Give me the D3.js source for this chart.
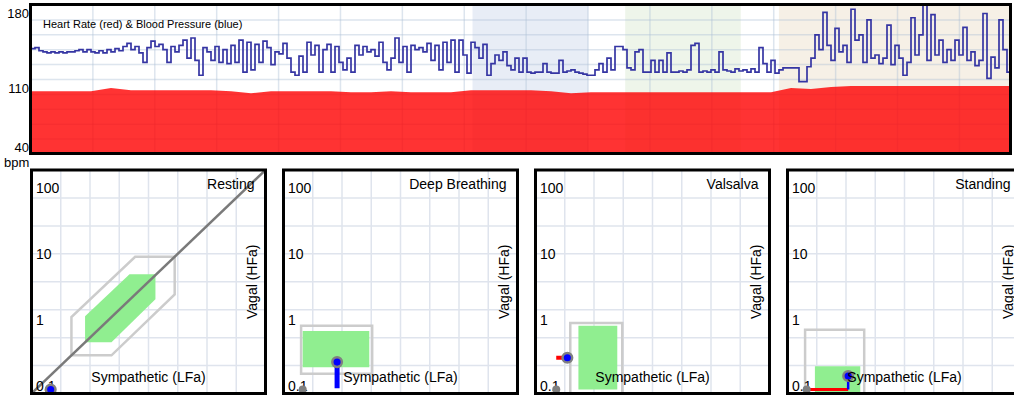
<!DOCTYPE html>
<html>
<head>
<meta charset="utf-8">
<script src="https://cdn.jsdelivr.net/npm/d3@7"></script>
<style>
  body { margin: 0; overflow: hidden; background: #fff; }
  svg { display: block; font-family: Arial, "Liberation Sans", sans-serif; }
</style>
</head>
<body>
<div id="chart"></div>
<script>
// trend chart (seconds on x, bpm on y)
const duration = 950;
const bpmTicks = [180, 110, 40];
const phases = [
  { name: 'Deep Breathing', start: 428, end: 540 },
  { name: 'Valsalva', start: 576, end: 688 },
  { name: 'Standing', start: 725, end: 950 }
];

// blood pressure, evenly sampled over the whole session
const bloodPressure = [
  139, 140, 137, 136, 135, 136, 135, 136, 135, 136, 136, 137, 138, 136, 138, 136, 135,
  137, 135, 138, 136, 139, 137, 141, 144, 138, 141, 135, 126, 140, 146, 141, 143, 138,
  126, 141, 136, 142, 147, 130, 149, 128, 114, 140, 136, 128, 141, 126, 138, 125,
  142, 126, 147, 117, 145, 119, 143, 126, 146, 140, 124, 136, 134, 144, 130, 117, 114,
  132, 117, 145, 133, 142, 117, 138, 143, 117, 141, 126, 119, 130, 117, 142, 133, 141,
  136, 138, 132, 145, 126, 119, 130, 149, 126, 141, 117, 142, 138, 140, 136,
  144, 128, 142, 119, 145, 126, 147, 117, 147, 133, 116, 145, 140, 130, 143, 114, 125,
  133, 128, 136, 123, 119, 130, 117, 130, 117, 116, 117, 117, 125, 117, 116, 116, 128,
  117, 118, 119, 117, 116, 115, 114, 114, 119, 125, 117, 130, 119, 141, 141, 138,
  121, 119, 136, 138, 117, 117, 128, 117, 128, 117, 135, 117, 117, 118, 117, 119, 142,
  144, 117, 118, 117, 119, 117, 136, 119, 118, 117, 120, 118, 119, 117, 120, 117, 140,
  125, 117, 128, 116, 119, 121, 121, 121, 121, 108, 108, 122, 130,
  152, 138, 173, 142, 128, 158, 136, 142, 126, 176, 147, 152, 126, 166, 130, 133, 125,
  130, 161, 124, 142, 130, 114, 126, 168, 133, 152, 180, 128, 171, 133, 147, 126, 138,
  128, 147, 133, 159, 128, 136, 123, 128, 172, 111, 131, 121, 166, 138, 117, 138
];

// heart rate, evenly sampled over the whole session
const heartRate = [
  99, 99, 99, 99, 102, 100, 100, 100, 100, 100, 99, 97, 99, 99, 99, 99, 98, 98, 99, 98,
  98, 98, 100, 100, 100, 100, 99, 97, 98, 98, 98, 98, 98, 98, 98, 98, 98, 98, 102, 101,
  103, 104, 104, 104, 104, 104, 104, 104, 104, 104
];

// autonomic panels (log-log, sympathetic LFa vs vagal HFa)
const panelNames = ['Resting', 'Deep Breathing', 'Valsalva', 'Standing'];
const logDomain = [0.1, 250];
const logTicks = [100, 10, 1, 0.1];
const outerZones = [
  [[0.38, 1.45], [0.38, 0.38], [1.45, 0.38], [12, 3.2], [12, 12], [3.2, 12]],
  [[0.18, 1.07], [0.18, 0.2], [1.94, 0.2], [1.94, 1.07]],
  [[0.32, 1.18], [0.32, 0.1], [1.82, 0.1], [1.82, 1.18]],
  [[0.18, 0.93], [0.18, 0.1], [1.3, 0.1], [1.3, 0.93]]
];
const normalZones = [
  [[0.6, 1.5], [0.6, 0.6], [1.45, 0.6], [6.3, 2.7], [6.3, 6.5], [2.65, 6.5]],
  [[0.19, 0.89], [0.19, 0.25], [1.76, 0.25], [1.76, 0.89]],
  [[0.42, 1.07], [0.42, 0.115], [1.54, 0.115], [1.54, 1.07]],
  [[0.25, 0.26], [0.25, 0.1], [1.14, 0.1], [1.14, 0.26]]
];
const previousPoints = [[0.19, 0.115], [0.19, 0.115], [0.2, 0.115], [0.19, 0.115]];
const currentPoints = [[0.19, 0.115], [0.6, 0.3], [0.29, 0.35], [0.76, 0.185]];
const sympatheticShift = [null, null, [[0.2, 0.35], [0.29, 0.35]], [[0.19, 0.115], [0.76, 0.115]]];
const vagalShift = [null, [[0.6, 0.12], [0.6, 0.3]], null, [[0.76, 0.115], [0.76, 0.185]]];

const phaseFill = {
  'Deep Breathing': '#e8edf6',
  'Valsalva': '#eef5ea',
  'Standing': '#f6f0e6'
};

const svg = d3.select('#chart')
  .append('svg')
    .attr('width', 1030)
    .attr('height', 396);

function drawTrend() {
  const left = 30.5, right = 1010.5, top = 4.5, bottom = 153.5;
  const x = d3.scaleLinear().domain([0, duration]).range([31, 1011]);
  const y = d3.scaleLinear().domain([40, 180]).range([154, 5]);
  const bpTime = i => i * duration / (bloodPressure.length - 1);
  const hrTime = i => i * duration / (heartRate.length - 1);

  svg.append('clipPath').attr('id', 'trend-clip')
    .append('rect')
      .attr('x', left).attr('y', top)
      .attr('width', right - left).attr('height', bottom - top);

  const g = svg.append('g').attr('clip-path', 'url(#trend-clip)');

  g.selectAll('rect.phase')
    .data(phases)
    .join('rect')
      .attr('class', 'phase')
      .attr('x', d => x(d.start))
      .attr('width', d => x(d.end) - x(d.start))
      .attr('y', top)
      .attr('height', bottom - top)
      .attr('fill', d => phaseFill[d.name]);

  // grid
  g.append('g')
      .attr('stroke', 'rgba(175,192,215,0.42)')
      .attr('stroke-width', 1.5)
    .selectAll('line')
    .data(d3.range(60, duration, 60))
    .join('line')
      .attr('x1', d => x(d)).attr('x2', d => x(d))
      .attr('y1', top).attr('y2', bottom);

  g.append('g')
      .attr('stroke', 'rgba(175,192,215,0.42)')
      .attr('stroke-width', 1.5)
    .selectAll('line')
    .data(d3.range(54, 180, 14))
    .join('line')
      .attr('y1', d => y(d)).attr('y2', d => y(d))
      .attr('x1', left).attr('x2', right);

  const area = d3.area()
    .x((d, i) => x(hrTime(i)))
    .y0(y(40))
    .y1(d => y(d));

  g.append('path')
    .datum(heartRate)
    .attr('d', area)
    .attr('fill', '#ff0000')
    .attr('fill-opacity', 0.8);

  const line = d3.line()
    .x((d, i) => x(bpTime(i)))
    .y(d => y(d))
    .curve(d3.curveStepAfter);

  g.append('path')
    .datum(bloodPressure)
    .attr('d', line)
    .attr('fill', 'none')
    .attr('stroke', '#3535a3')
    .attr('stroke-width', 1.7);

  svg.append('text')
    .attr('x', 43).attr('y', 28)
    .attr('font-size', 11)
    .text('Heart Rate (red) & Blood Pressure (blue)');

  svg.append('g')
      .attr('font-size', 13)
      .attr('text-anchor', 'end')
    .selectAll('text')
    .data(bpmTicks)
    .join('text')
      .attr('x', 29)
      .attr('y', d => Math.min(y(d) + 13, 152))
      .text(d => d);

  svg.append('text')
    .attr('x', 4).attr('y', 167)
    .attr('font-size', 13)
    .text('bpm');

  svg.append('rect')
    .attr('x', left).attr('y', top)
    .attr('width', right - left).attr('height', bottom - top)
    .attr('fill', 'none')
    .attr('stroke', '#000')
    .attr('stroke-width', 3);
}

function drawPanel(name, i) {
  const w = 234, h = 223.5, top = 170;
  const left = 31.5 + i * 252;
  const right = left + w, bottom = top + h;
  const x = d3.scaleLog().domain(logDomain).range([left, right]);
  const y = d3.scaleLog().domain(logDomain).range([bottom, top]);
  const span = logDomain[1] / logDomain[0];
  const gridValues = d3.range(1, 8).map(k => logDomain[0] * Math.pow(span, k / 8));
  const toPath = pts => d3.line().x(d => x(d[0])).y(d => y(d[1]))(pts) + 'Z';

  const clipId = 'panel-clip-' + i;
  svg.append('clipPath').attr('id', clipId)
    .append('rect')
      .attr('x', left).attr('y', top).attr('width', w).attr('height', h);

  const g = svg.append('g').attr('clip-path', `url(#${clipId})`);

  g.append('rect')
    .attr('x', left).attr('y', top).attr('width', w).attr('height', h)
    .attr('fill', '#fff');

  const grid = g.append('g')
    .attr('stroke', '#dfe4ed')
    .attr('stroke-width', 1.5);
  grid.selectAll('line.v')
    .data(gridValues)
    .join('line')
      .attr('class', 'v')
      .attr('x1', d => x(d)).attr('x2', d => x(d))
      .attr('y1', top).attr('y2', bottom);
  grid.selectAll('line.h')
    .data(gridValues)
    .join('line')
      .attr('class', 'h')
      .attr('y1', d => y(d)).attr('y2', d => y(d))
      .attr('x1', left).attr('x2', right);

  g.append('path')
    .attr('d', toPath(outerZones[i]))
    .attr('fill', 'none')
    .attr('stroke', '#cccccc')
    .attr('stroke-width', 2.5);

  g.append('path')
    .attr('d', toPath(normalZones[i]))
    .attr('fill', '#90ee90');

  if (i === 0) {
    g.append('line')
      .attr('x1', x(logDomain[0])).attr('y1', y(logDomain[0]))
      .attr('x2', x(logDomain[1])).attr('y2', y(logDomain[1]))
      .attr('stroke', '#7a7a7a')
      .attr('stroke-width', 2.5);
  }

  g.append('g')
      .attr('font-size', 14)
    .selectAll('text')
    .data(logTicks)
    .join('text')
      .attr('x', left + 4.5)
      .attr('y', d => y(d) - 3)
      .text(d => d);

  const shiftWidth = { red: [0, 0, 4, 3], blue: [0, 5, 0, 2.5] };
  if (sympatheticShift[i]) {
    const s = sympatheticShift[i];
    g.append('line')
      .attr('x1', x(s[0][0])).attr('y1', y(s[0][1]))
      .attr('x2', x(s[1][0])).attr('y2', y(s[1][1]))
      .attr('stroke', '#ff0000')
      .attr('stroke-width', shiftWidth.red[i]);
  }
  if (vagalShift[i]) {
    const s = vagalShift[i];
    g.append('line')
      .attr('x1', x(s[0][0])).attr('y1', y(s[0][1]))
      .attr('x2', x(s[1][0])).attr('y2', y(s[1][1]))
      .attr('stroke', '#0000ff')
      .attr('stroke-width', shiftWidth.blue[i]);
  }

  g.append('circle')
    .attr('cx', x(previousPoints[i][0]))
    .attr('cy', y(previousPoints[i][1]))
    .attr('r', 4)
    .attr('fill', '#808080');

  g.append('circle')
    .attr('cx', x(currentPoints[i][0]))
    .attr('cy', y(currentPoints[i][1]))
    .attr('r', 4.8)
    .attr('fill', '#0000ff')
    .attr('stroke', '#808080')
    .attr('stroke-width', 2.5);

  g.append('text')
    .attr('x', right - 11).attr('y', top + 19)
    .attr('font-size', 14)
    .attr('text-anchor', 'end')
    .text(name);

  g.append('text')
    .attr('x', (left + right) / 2).attr('y', top + 212)
    .attr('font-size', 14)
    .attr('text-anchor', 'middle')
    .text('Sympathetic (LFa)');

  g.append('text')
    .attr('transform', `translate(${right - 9},${top + h / 2}) rotate(-90)`)
    .attr('font-size', 14)
    .attr('text-anchor', 'middle')
    .text('Vagal (HFa)');

  svg.append('rect')
    .attr('x', left).attr('y', top).attr('width', w).attr('height', h)
    .attr('fill', 'none')
    .attr('stroke', '#000')
    .attr('stroke-width', 3);
}

drawTrend();
panelNames.forEach(drawPanel);
</script>
</body>
</html>
